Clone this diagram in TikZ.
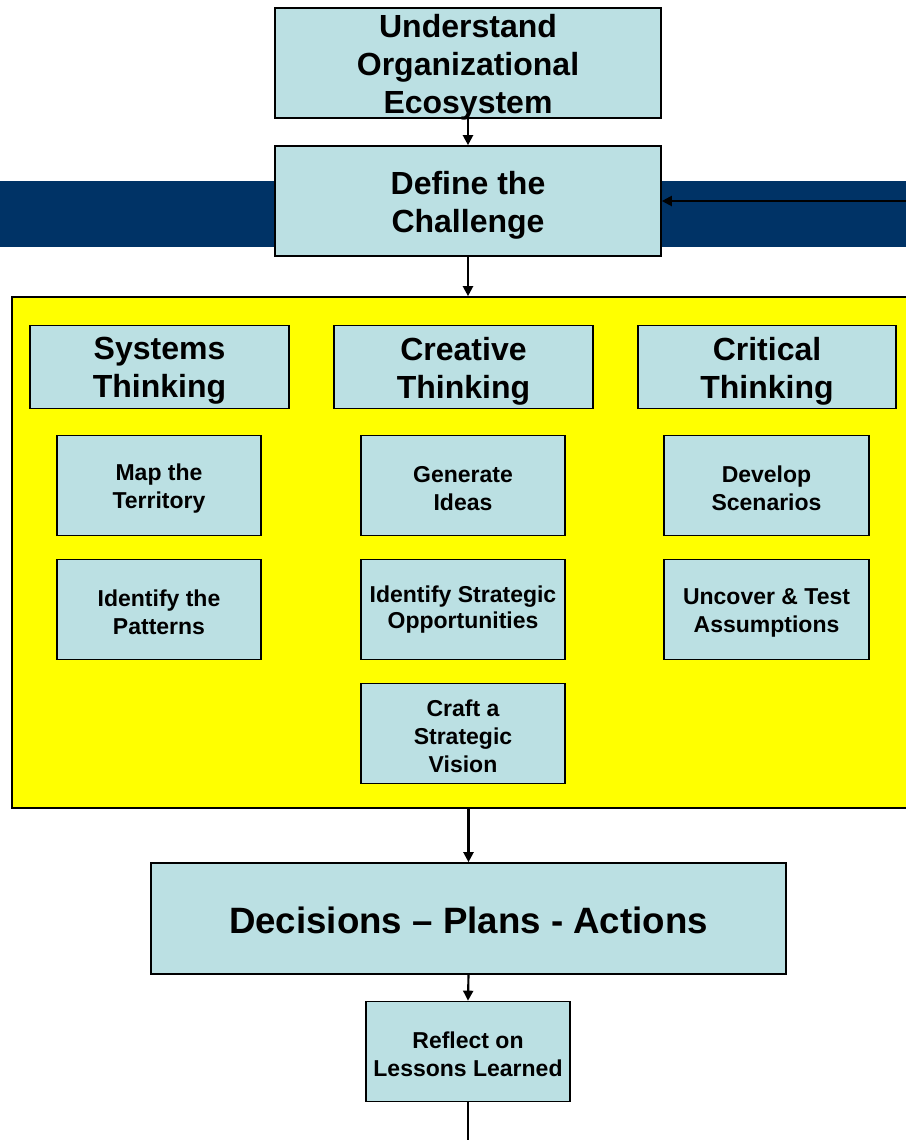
\documentclass[tikz,border=0pt]{standalone}
\usepackage{fontspec}
\setmainfont{Liberation Sans}
\usetikzlibrary{arrows.meta}
\definecolor{boxblue}{HTML}{BBE0E3}
\definecolor{navy}{HTML}{003366}
\definecolor{panelyellow}{HTML}{FFFF00}
\begin{document}
\begin{tikzpicture}[x=0.75pt,y=-0.75pt,
  wh/.style 2 args={minimum width={#1*0.75pt},minimum height={#2*0.75pt}},
  box/.style={draw=black,line width=1.25pt,fill=boxblue,inner sep=0pt},
  bigtxt/.style={align=center,inner sep=0pt,yshift=-3pt,font=\fontsize{24}{28.5}\selectfont\bfseries},
  smalltxt/.style={align=center,inner sep=0pt,yshift=-2.25pt,font=\fontsize{17.25}{21}\selectfont\bfseries},
  hugetxt/.style={align=center,inner sep=0pt,yshift=-1.5pt,font=\fontsize{27.5}{33}\selectfont\bfseries},
  bigbox/.style={box,label={[bigtxt]center:#1}},
  smallbox/.style={box,label={[smalltxt]center:#1}},
  hugebox/.style={box,label={[hugetxt]center:#1}},
  panel/.style={draw=black,line width=1.25pt,fill=panelyellow,inner sep=0pt},
  band/.style={fill=navy,draw=none,inner sep=0pt},
  arr/.style={draw=black,line width=1.6pt,-{Triangle[length=7.5pt,width=7.5pt]}},
  plain/.style={draw=black,line width=1.6pt}]
\useasboundingbox (0,0) rectangle (906,1140);
\clip (0,0) rectangle (906,1140);
% navy band
\node[band,wh={920}{66}] (bandnode) at (460,214) {};
% top boxes
\node[bigbox={Understand\\Organizational\\Ecosystem},wh={386}{110}] (eco) at (468,63) {};
\node[bigbox={Define the\\Challenge},wh={386}{110}] (define) at (468,201) {};
% yellow panel
\node[panel,wh={908}{511}] (panelnode) at (466,552.5) {};
% headers
\node[bigbox={Systems\\Thinking},wh={259}{83}] (sys) at (159.5,367) {};
\node[bigbox={Creative\\Thinking},wh={259}{83}] (cre) at (463.5,367) {};
\node[bigbox={Critical\\Thinking},wh={258}{83}] (cri) at (767,367) {};
% small boxes
\node[smallbox={Map the\\Territory},wh={204}{100}] (map) at (159,485.5) {};
\node[smallbox={Identify the\\Patterns},wh={204}{100}] (pat) at (159,609.5) {};
\node[smallbox={Generate\\Ideas},wh={204}{100}] (gen) at (463,485.5) {};
\node[box,label={[smalltxt,yshift=2.25pt]center:Identify Strategic\\[-1.5pt]Opportunities},wh={204}{100}] (opp) at (463,609.5) {};
\node[smallbox={Craft a\\Strategic\\Vision},wh={204}{100}] (vis) at (463,733.5) {};
\node[smallbox={Develop\\Scenarios},wh={205}{100}] (scen) at (766.5,485.5) {};
\node[smallbox={Uncover \& Test\\Assumptions},wh={205}{100}] (ass) at (766.5,609.5) {};
% bottom boxes
\node[hugebox={Decisions – Plans - Actions},wh={635}{111}] (dec) at (468.5,918.5) {};
\node[smallbox={Reflect on\\Lessons Learned},wh={204}{100}] (refl) at (468,1051.5) {};
% connectors
\coordinate (rin) at (906,201);
\coordinate (bottomend) at (468,1140);
\draw[arr] (eco.south) -- (define.north);
\draw[arr] (define.south) -- (define.south |- panelnode.north);
\draw[arr] (rin) -- (define.east);
\draw[arr] (dec.north |- panelnode.south) -- (dec.north);
\draw[arr] (dec.south) -- (refl.north);
\draw[plain] (refl.south) -- (bottomend);
\end{tikzpicture}
\end{document}
